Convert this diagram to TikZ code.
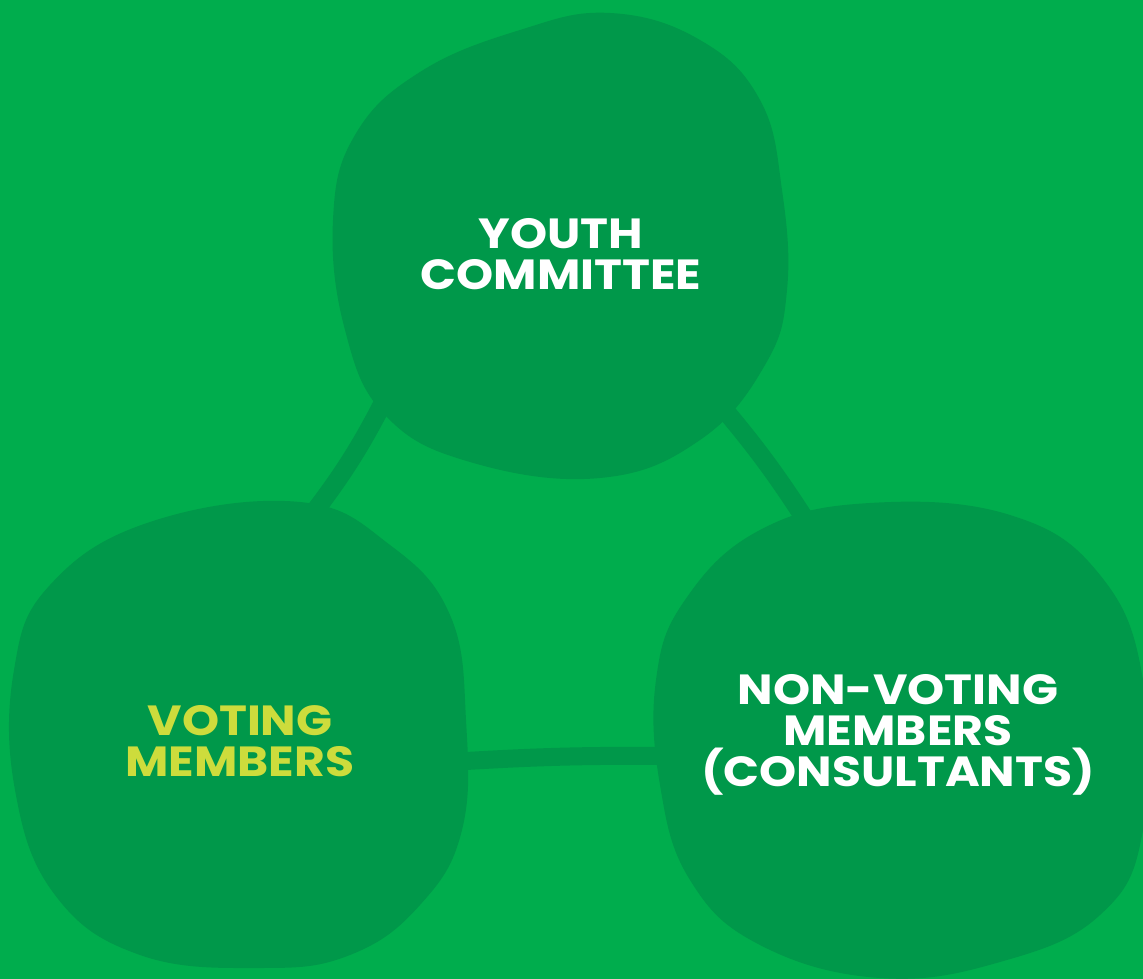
\documentclass[tikz,border=0pt]{standalone}
\usepackage{fontspec}
\newfontfamily\blobfont{Poppins}[FakeStretch=1.12]
\usetikzlibrary{positioning}
\definecolor{bggreen}{HTML}{00AD4D}
\definecolor{blobgreen}{HTML}{00984A}
\definecolor{limetext}{HTML}{CDDC3C}

\begin{document}
\begin{tikzpicture}[x=0.02cm, y=-0.02cm,
	blob/.style={fill=blobgreen, draw=none},
	link/.style={draw=blobgreen, line width=0.37cm},
	label/.style={text=white, font=\blobfont\bfseries\fontsize{24}{23.5}\selectfont, align=center, inner sep=0pt}]
	\fill[bggreen] (0,0) rectangle (1143,979);
	\useasboundingbox (0,0) rectangle (1143,979);
	% connector ends
	\coordinate (ytop) at (392,385);
	\coordinate (vtop) at (300,530);
	\coordinate (ytopr) at (712,395);
	\coordinate (ntop) at (812,530);
	\coordinate (vright) at (450,762);
	\coordinate (nleft) at (670,756);
	\draw[link] (ytop) to[bend left=6] (vtop);
	\draw[link] (ytopr) to[bend left=4] (ntop);
	\draw[link, line width=0.36cm] (vright) to[bend left=2] (nleft);
	% blobs
	\fill[blob] plot[smooth cycle, tension=0.7] coordinates {(420,72) (520,30) (610,13) (700,40) (760,100) (782,190) (787,290) (765,365) (700,440) (600,478) (470,462) (385,415) (345,330) (333,220) (355,135)};
	\fill[blob] plot[smooth cycle, tension=0.7] coordinates {(300,502) (390,545) (450,615) (466,720) (462,830) (420,905) (350,955) (260,968) (140,955) (55,895) (15,790) (14,670) (50,585) (150,522)};
	\fill[blob] plot[smooth cycle, tension=0.7] coordinates {(870,503) (1010,515) (1100,575) (1143,680) (1143,830) (1100,915) (1000,962) (880,978) (760,945) (690,880) (660,785) (656,680) (685,600) (760,530)};
	% labels
	\node[label] (youth) at (561,254) {YOUTH\\COMMITTEE};
	\node[label, text=limetext] (voting) at (240,741) {VOTING\\MEMBERS};
	\node[label] (nonvoting) at (898,735) {NON-VOTING\\MEMBERS\\(CONSULTANTS)};
\end{tikzpicture}
\end{document}
